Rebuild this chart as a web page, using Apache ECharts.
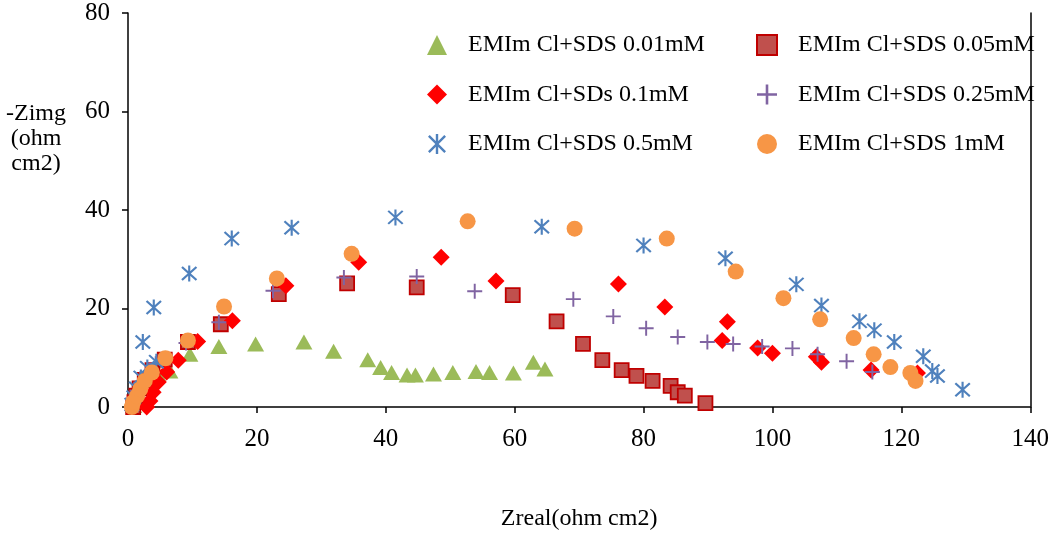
<!DOCTYPE html>
<html>
<head>
<meta charset="utf-8">
<script src="https://cdn.jsdelivr.net/npm/echarts@6/dist/echarts.min.js"></script>
<style>
  html, body { margin: 0; padding: 0; background: #ffffff; }
  #chart { width: 1052px; height: 536px; }
</style>
</head>
<body>
<div id="chart"></div>
<script>
// ---- Data (Zreal, -Zimg) ----
const seriesNames = [
  'EMIm Cl+SDS 0.01mM',
  'EMIm Cl+SDS 0.05mM',
  'EMIm Cl+SDs 0.1mM',
  'EMIm Cl+SDS 0.25mM',
  'EMIm Cl+SDS 0.5mM',
  'EMIm Cl+SDS 1mM'
];

const sds001 = [
  [0.9, 0.3], [1.2, 1.3], [1.6, 2.6], [2.2, 4.0], [3.2, 5.4], [4.6, 6.8], [6.5, 7.3],
  [9.6, 10.7], [14.1, 12.3], [19.8, 12.8], [27.3, 13.2], [31.9, 11.3], [37.2, 9.6],
  [39.2, 8.0], [40.9, 7.0], [43.3, 6.5], [44.6, 6.5], [47.4, 6.7], [50.4, 7.0],
  [54.0, 7.2], [56.1, 7.0], [59.8, 6.9], [62.9, 9.1], [64.7, 7.7]
];

const sds005 = [
  [0.8, 0.0], [1.0, 1.0], [1.3, 2.3], [1.8, 3.8], [2.6, 5.5], [3.8, 7.5], [5.7, 9.6],
  [9.3, 13.2], [14.4, 16.8], [23.4, 22.9], [34.0, 25.1], [44.8, 24.3], [59.7, 22.7],
  [66.5, 17.4], [70.6, 12.8], [73.6, 9.5], [76.6, 7.5], [78.9, 6.3], [81.4, 5.3],
  [84.2, 4.3], [85.3, 3.0], [86.4, 2.3], [89.6, 0.8]
];

const sds01 = [
  [2.9, 0.0], [3.4, 1.2], [3.9, 3.0], [4.7, 5.1], [6.0, 7.1], [7.8, 9.5], [10.8, 13.3],
  [16.2, 17.5], [24.5, 24.6], [35.8, 29.4], [48.6, 30.4], [57.1, 25.6], [76.1, 25.0],
  [83.3, 20.3], [93.0, 17.3], [92.2, 13.5], [97.7, 12.0], [100.0, 10.9], [106.8, 10.2],
  [107.6, 9.1], [115.3, 7.5], [122.5, 6.9]
];

const sds025 = [
  [0.7, 0.5], [1.0, 1.8], [1.4, 3.3], [2.0, 5.0], [2.9, 7.0], [4.3, 8.8], [9.0, 13.0],
  [14.1, 17.2], [22.5, 23.6], [33.5, 26.3], [44.8, 26.5], [53.8, 23.5], [69.1, 21.9],
  [75.3, 18.4], [80.4, 16.0], [85.3, 14.2], [89.9, 13.2], [93.9, 12.8], [98.4, 12.3],
  [103.1, 11.9], [107.0, 10.7], [111.5, 9.3], [115.5, 7.1]
];

const sds05 = [
  [0.6, 0.5], [0.9, 2.0], [1.3, 3.8], [2.0, 6.0], [3.0, 8.0], [4.4, 9.2], [2.3, 13.2],
  [4.0, 20.2], [9.5, 27.1], [16.1, 34.2], [25.4, 36.4], [41.5, 38.5], [64.2, 36.6],
  [80.0, 32.8], [92.7, 30.2], [103.7, 24.9], [107.6, 20.6], [113.5, 17.4], [115.8, 15.6],
  [118.9, 13.2], [123.4, 10.3], [124.8, 7.3], [125.6, 6.3], [129.5, 3.5]
];

const sds1 = [
  [0.6, 0.0], [0.8, 1.0], [1.4, 2.2], [1.9, 3.6], [2.6, 5.3], [3.7, 7.0], [5.8, 9.9],
  [9.3, 13.5], [14.9, 20.4], [23.1, 26.1], [34.7, 31.1], [52.7, 37.7], [69.3, 36.2],
  [83.6, 34.2], [94.3, 27.5], [101.7, 22.1], [107.4, 17.8], [112.6, 14.0], [115.7, 10.7],
  [118.3, 8.1], [121.4, 6.9], [122.2, 5.3]
];

const xTicks = { min: 0, max: 140, interval: 20 };
const yTicks = { min: 0, max: 80, interval: 20 };

// ---- Symbols ----
const plusPath = 'path://M8.7 0 L11.3 0 L11.3 8.7 L20 8.7 L20 11.3 L11.3 11.3 L11.3 20 L8.7 20 L8.7 11.3 L0 11.3 L0 8.7 L8.7 8.7 Z';
const asteriskPath = 'path://M8.8 0 L11.2 0 L11.2 20 L8.8 20 Z ' +
  'M1 2.7 L2.7 1 L19 17.3 L17.3 19 Z ' +
  'M17.3 1 L19 2.7 L2.7 19 L1 17.3 Z';

const FONT = '"Liberation Serif", "DejaVu Serif", serif';

const chart = echarts.init(document.getElementById('chart'), null, { renderer: 'canvas' });

const legendText = { fontFamily: FONT, fontSize: 24, color: '#000', padding: [0, 0, 0, 16] };

const option = {
  animation: false,
  backgroundColor: '#ffffff',
  textStyle: { fontFamily: FONT },
  grid: { left: 128, right: 20, top: 13, bottom: 128, containLabel: false },
  legend: [
    {
      orient: 'vertical', left: 422, top: 28, itemWidth: 20, itemHeight: 20, itemGap: 25.5,
      data: [seriesNames[0], seriesNames[2], seriesNames[4]],
      textStyle: legendText, selectedMode: false
    },
    {
      orient: 'vertical', left: 751, top: 28, itemWidth: 20, itemHeight: 20, itemGap: 25.5,
      data: [seriesNames[1], seriesNames[3], seriesNames[5]],
      textStyle: legendText, selectedMode: false
    }
  ],
  graphic: [
    {
      type: 'text', x: 36, y: 101,
      style: {
        text: '-Zimg\n(ohm\ncm2)', fontFamily: FONT, fontSize: 24, lineHeight: 25,
        fill: '#000', align: 'center', verticalAlign: 'top'
      }
    }
  ],
  xAxis: {
    type: 'value', min: xTicks.min, max: xTicks.max, interval: xTicks.interval,
    name: 'Zreal(ohm cm2)', nameLocation: 'middle', nameGap: 100,
    nameTextStyle: { fontFamily: FONT, fontSize: 24, color: '#000' },
    axisLine: { onZero: false, lineStyle: { color: '#000', width: 1.5 } },
    axisTick: { inside: false, length: 6, lineStyle: { color: '#000', width: 1.5 } },
    axisLabel: { fontFamily: FONT, fontSize: 25, color: '#000', margin: 20 },
    splitLine: { show: false }
  },
  yAxis: [
    {
      type: 'value', min: yTicks.min, max: yTicks.max, interval: yTicks.interval,
      axisLine: { show: true, onZero: false, lineStyle: { color: '#000', width: 1.5 } },
      axisTick: { show: true, inside: false, length: 6, lineStyle: { color: '#000', width: 1.5 } },
      axisLabel: { fontFamily: FONT, fontSize: 25, color: '#000', margin: 18 },
      splitLine: { show: false }
    },
    {
      type: 'value', min: yTicks.min, max: yTicks.max, interval: yTicks.interval, position: 'right',
      axisLine: { show: true, onZero: false, lineStyle: { color: '#000', width: 1.5 } },
      axisTick: { show: false }, axisLabel: { show: false }, splitLine: { show: false }
    }
  ],
  series: [
    {
      name: seriesNames[0], type: 'scatter', data: sds001,
      symbol: 'triangle', symbolSize: [17, 15],
      itemStyle: { color: '#9BBB59', opacity: 1 }
    },
    {
      name: seriesNames[1], type: 'scatter', data: sds005,
      symbol: 'rect', symbolSize: 14,
      itemStyle: { color: '#C0504D', borderColor: '#C00000', borderWidth: 1.8, opacity: 1 }
    },
    {
      name: seriesNames[2], type: 'scatter', data: sds01,
      symbol: 'diamond', symbolSize: 17,
      itemStyle: { color: '#FF0000', opacity: 1 }
    },
    {
      name: seriesNames[3], type: 'scatter', data: sds025,
      symbol: plusPath, symbolSize: 15,
      itemStyle: { color: '#8064A2', opacity: 1 }
    },
    {
      name: seriesNames[4], type: 'scatter', data: sds05,
      symbol: asteriskPath, symbolSize: 16,
      itemStyle: { color: '#4F81BD', opacity: 1 }
    },
    {
      name: seriesNames[5], type: 'scatter', data: sds1,
      symbol: 'circle', symbolSize: 16,
      itemStyle: { color: '#F79646', opacity: 1 }
    }
  ]
};

chart.setOption(option);
</script>
</body>
</html>
